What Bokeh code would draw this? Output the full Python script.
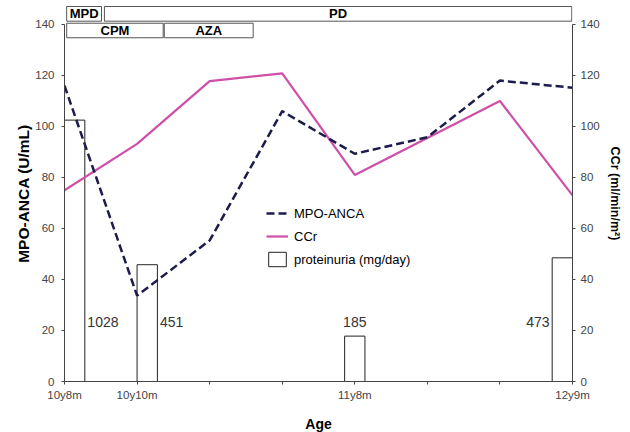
from bokeh.plotting import figure
from bokeh.models import (Range1d, LinearAxis, FixedTicker, Legend, LegendItem,
                          ColumnDataSource)
from bokeh.core.properties import value
from bokeh.embed import file_html
from bokeh.resources import INLINE

# ---- data ----
time_idx = [0, 1, 2, 3, 4, 5, 6, 7]
tick_labels = {0: "10y8m", 1: "10y10m", 2: "", 3: "", 4: "11y8m", 5: "", 6: "", 7: "12y9m"}
mpo_anca = [116, 33.7, 55.3, 106, 89.3, 95.8, 118, 115.2]
ccr = [75, 93.2, 117.8, 120.8, 81, 95.5, 110, 73]

prot_x = [0.14, 1.14, 4.0, 6.86]
prot_height = [102.5, 45.8, 17.8, 48.5]
prot_labels = ["1028", "451", "185", "473"]
prot_label_side = ["right", "right", "center", "left"]

treat_names = ["MPD", "PD", "CPM", "AZA"]
treat_start = [0.03, 0.55, 0.03, 1.375]
treat_end = [0.51, 6.99, 1.36, 2.6]
treat_row = [0, 0, 1, 1]

FONT = "Liberation Sans"
BAR_W = 0.28
Y_TOP = 147.45

p = figure(frame_width=508, frame_height=376, min_border_left=64, min_border_right=56,
           min_border_top=5, min_border_bottom=50,
           x_range=Range1d(0, 7), y_range=Range1d(0, Y_TOP),
           output_backend="svg", toolbar_location=None, x_axis_location=None,
           y_axis_location=None)
p.outline_line_color = None
p.xgrid.visible = False
p.ygrid.visible = False
p.background_fill_color = "white"
p.border_fill_color = "white"
p.extra_y_ranges = {"ccr": Range1d(0, Y_TOP)}

def style_axis(ax):
    ax.axis_line_color = "#444444"
    ax.major_tick_line_color = "#444444"
    ax.minor_tick_line_color = None
    ax.major_tick_in = 0
    ax.major_tick_out = 3
    ax.major_label_text_font = FONT
    ax.major_label_text_font_size = "11.5px"
    ax.major_label_text_color = "#444444"
    ax.axis_label_text_font = FONT
    ax.axis_label_text_font_style = "bold"
    ax.axis_label_text_color = "black"

xax = LinearAxis(ticker=FixedTicker(ticks=time_idx), axis_label="Age")
style_axis(xax)
xax.major_label_overrides = tick_labels
xax.major_label_standoff = 4
xax.axis_label_standoff = 12
xax.axis_label_text_font_size = "14px"
p.add_layout(xax, "below")

yticks = [0, 20, 40, 60, 80, 100, 120, 140]
yax = LinearAxis(ticker=FixedTicker(ticks=yticks), bounds=(0, 140),
                 axis_label="MPO-ANCA (U/mL)")
style_axis(yax)
yax.major_label_standoff = 7
yax.axis_label_standoff = 0
yax.axis_label_text_font_size = "15.5px"
p.add_layout(yax, "left")

y2 = LinearAxis(y_range_name="ccr", ticker=FixedTicker(ticks=yticks), bounds=(0, 140),
                axis_label="CCr (ml/min/m²)")
style_axis(y2)
y2.major_label_standoff = 5
y2.axis_label_standoff = 5
y2.axis_label_text_font_size = "12.5px"
p.add_layout(y2, "right")

# treatment boxes
row_bottom = [141.3, 134.8]
row_top = [147.06, 140.5]
tb = ColumnDataSource(dict(
    left=treat_start, right=treat_end,
    bottom=[row_bottom[r] for r in treat_row], top=[row_top[r] for r in treat_row],
    xc=[(a + b) / 2 for a, b in zip(treat_start, treat_end)],
    yc=[(row_bottom[r] + row_top[r]) / 2 for r in treat_row],
    name=treat_names))
p.quad(left="left", right="right", bottom="bottom", top="top", source=tb,
       fill_color="white", line_color="#555555", line_width=1)
p.text(x="xc", y="yc", text="name", source=tb, text_align="center", text_baseline="middle",
       text_font=value(FONT), text_font_style="bold", text_font_size="13px", text_color="black")

# proteinuria bars
bars = p.vbar(x=prot_x, top=prot_height, width=BAR_W, bottom=0, fill_color="white",
              line_color="#222222", line_width=1)
lab_x, lab_align = [], []
for x, side in zip(prot_x, prot_label_side):
    if side == "right":
        lab_x.append(x + BAR_W / 2 + 0.035); lab_align.append("left")
    elif side == "left":
        lab_x.append(x - BAR_W / 2 - 0.035); lab_align.append("right")
    else:
        lab_x.append(x); lab_align.append("center")
ls = ColumnDataSource(dict(x=lab_x, y=[23.3] * 4, t=prot_labels, a=lab_align))
p.text(x="x", y="y", text="t", text_align="a", source=ls, text_baseline="middle",
       text_font=value(FONT), text_font_size="14px", text_color="#333333")

# lines
r_ccr = p.line(time_idx, ccr, line_color="#cf4fa8", line_width=2.2, y_range_name="ccr")
r_mpo = p.line(time_idx, mpo_anca, line_color="#1c1c4c", line_width=2.5, line_dash="8 4")

legend = Legend(items=[LegendItem(label="MPO-ANCA", renderers=[r_mpo]),
                       LegendItem(label="CCr", renderers=[r_ccr]),
                       LegendItem(label="proteinuria (mg/day)", renderers=[bars])],
                location=(202, 113), border_line_color=None, background_fill_alpha=0,
                glyph_width=22, glyph_height=18, label_height=18, spacing=5, padding=2,
                margin=0, label_standoff=6, label_text_font=FONT,
                label_text_font_size="13px", label_text_color="black")
p.add_layout(legend, "center")

open("out.html", "w").write(file_html(p, INLINE))
